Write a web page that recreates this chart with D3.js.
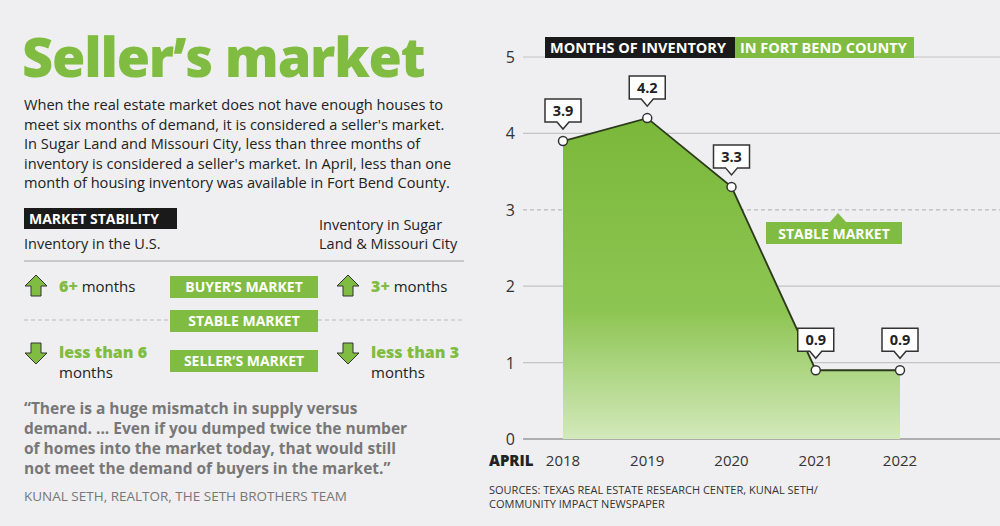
<!DOCTYPE html>
<html><head><meta charset="utf-8">
<script src="https://cdn.jsdelivr.net/npm/d3@7"></script>
<style>body{margin:0;background:#efeff1}svg{font-family:"Open Sans",sans-serif}</style>
</head><body><svg id="c" width="1000" height="526"></svg>
<script>
// chart data
const years = [2018, 2019, 2020, 2021, 2022];
const months = [3.9, 4.2, 3.3, 0.9, 0.9];
const yTicks = [0, 1, 2, 3, 4, 5];
const intro = [
  "When the real estate market does not have enough houses to",
  "meet six months of demand, it is considered a seller's market.",
  "In Sugar Land and Missouri City, less than three months of",
  "inventory is considered a seller's market. In April, less than one",
  "month of housing inventory was available in Fort Bend County."
];
const quote = [
  "\u201cThere is a huge mismatch in supply versus",
  "demand. ... Even if you dumped twice the number",
  "of homes into the market today, that would still",
  "not meet the demand of buyers in the market.\u201d"
];

const GREEN = "#80bc41", DARK = "#222";
const svg = d3.select("#c");
svg.append("rect").attr("width", 1000).attr("height", 526).attr("fill", "#efeff1");

// ----- left panel
svg.append("text").attr("x", 22).attr("y", 77).attr("fill", GREEN)
  .attr("font-size", 54).attr("font-weight", 800).attr("letter-spacing", -1.2).text("Seller\u2019s market");
intro.forEach((t, i) => svg.append("text").attr("x", 24).attr("y", 110 + i * 19.5)
  .attr("font-size", 14.6).attr("fill", DARK).text(t));

svg.append("rect").attr("x", 24).attr("y", 208).attr("width", 153).attr("height", 21).attr("fill", "#1a1a1a");
svg.append("text").attr("x", 29).attr("y", 224).attr("fill", "#fff").attr("font-size", 14)
  .attr("font-weight", 700).text("MARKET STABILITY");
svg.append("text").attr("x", 24).attr("y", 249).attr("font-size", 14.5).attr("fill", DARK).text("Inventory in the U.S.");
svg.append("text").attr("x", 319).attr("y", 230).attr("font-size", 14.5).attr("fill", DARK).text("Inventory in Sugar");
svg.append("text").attr("x", 319).attr("y", 249).attr("font-size", 14.5).attr("fill", DARK).text("Land & Missouri City");
svg.append("line").attr("x1", 24).attr("x2", 464).attr("y1", 261).attr("y2", 261).attr("stroke", "#bbb").attr("stroke-width", 1.5);
svg.append("line").attr("x1", 24).attr("x2", 464).attr("y1", 320).attr("y2", 320).attr("stroke", "#bbb").attr("stroke-dasharray", "4,3");

function arrow(x, y, up) {
  const p = up ? [[0,-11],[11,0],[5,0],[5,10],[-5,10],[-5,0],[-11,0]]
               : [[0,11],[11,0],[5,0],[5,-10],[-5,-10],[-5,0],[-11,0]];
  svg.append("polygon").attr("points", p.map(d => [x + d[0], y + d[1]].join(",")).join(" "))
    .attr("fill", GREEN).attr("stroke", "#333").attr("stroke-width", 1);
}
arrow(36, 286, true); arrow(348, 286, true);
arrow(36, 353, false); arrow(348, 353, false);
function gtext(x, y, big, rest) {
  const t = svg.append("text").attr("x", x).attr("y", y).attr("font-size", 15);
  t.append("tspan").attr("fill", GREEN).attr("font-weight", 800).attr("font-size", 16).text(big);
  if (rest) t.append("tspan").attr("fill", DARK).text(rest);
}
gtext(59, 292, "6+", " months"); gtext(371, 292, "3+", " months");
gtext(59, 358, "less than 6"); gtext(371, 358, "less than 3");
svg.append("text").attr("x", 59).attr("y", 378).attr("font-size", 15).attr("fill", DARK).text("months");
svg.append("text").attr("x", 371).attr("y", 378).attr("font-size", 15).attr("fill", DARK).text("months");
[["BUYER\u2019S MARKET", 276], ["STABLE MARKET", 310], ["SELLER\u2019S MARKET", 350]].forEach(([t, y]) => {
  svg.append("rect").attr("x", 170).attr("y", y).attr("width", 148).attr("height", 22).attr("fill", GREEN);
  svg.append("text").attr("x", 244).attr("y", y + 16).attr("text-anchor", "middle").attr("fill", "#fff")
    .attr("font-size", 14).attr("font-weight", 700).text(t);
});
quote.forEach((t, i) => svg.append("text").attr("x", 24).attr("y", 414 + i * 20)
  .attr("font-size", 15.5).attr("font-weight", 700).attr("fill", "#777").text(t));
svg.append("text").attr("x", 24).attr("y", 501).attr("font-size", 13.5).attr("fill", "#777")
  .text("KUNAL SETH, REALTOR, THE SETH BROTHERS TEAM");

// ----- chart
const x = d3.scaleLinear().domain([2018, 2022]).range([563, 900]);
const y = d3.scaleLinear().domain([0, 5]).range([439, 57]);

yTicks.forEach(v => {
  svg.append("line").attr("x1", 523).attr("x2", 1000).attr("y1", y(v)).attr("y2", y(v))
    .attr("stroke", v === 3 ? "#bbb" : (v === 0 ? "#999" : "#c4c4c4"))
    .attr("stroke-width", v === 0 ? 1.5 : 1.2)
    .attr("stroke-dasharray", v === 3 ? "4,3" : null);
  svg.append("text").attr("x", 515).attr("y", y(v) + 6).attr("text-anchor", "end")
    .attr("font-size", 16).attr("fill", "#333").text(v);
});

const defs = svg.append("defs");
const g = defs.append("linearGradient").attr("id", "fill").attr("x1", 0).attr("x2", 0).attr("y1", 0).attr("y2", 1);
g.append("stop").attr("offset", "0%").attr("stop-color", "#7ab83a");
g.append("stop").attr("offset", "60%").attr("stop-color", "#8dc552");
g.append("stop").attr("offset", "100%").attr("stop-color", "#d3e9bb");

const pts = years.map((yr, i) => [yr, months[i]]);
svg.append("path").datum(pts)
  .attr("d", d3.area().x(d => x(d[0])).y0(y(0)).y1(d => y(d[1])))
  .attr("fill", "url(#fill)");
svg.append("path").datum(pts)
  .attr("d", d3.line().x(d => x(d[0])).y(d => y(d[1])))
  .attr("fill", "none").attr("stroke", "#2c3a1c").attr("stroke-width", 1.8);

// stable market tag
svg.append("path").attr("d", "M766,222 H830 L838,213 L846,222 H902 V244 H766 Z").attr("fill", GREEN);
svg.append("text").attr("x", 834).attr("y", 239).attr("text-anchor", "middle").attr("fill", "#fff")
  .attr("font-size", 14).attr("font-weight", 700).text("STABLE MARKET");

pts.forEach(d => {
  const cx = x(d[0]), cy = y(d[1]);
  const by = cy - 42;
  svg.append("path").attr("d", `M${cx - 18},${by} H${cx + 18} V${by + 23} H${cx + 6} L${cx},${by + 30} L${cx - 6},${by + 23} H${cx - 18} Z`)
    .attr("fill", "#fff").attr("stroke", "#333").attr("stroke-width", 1.5);
  svg.append("text").attr("x", cx).attr("y", by + 17).attr("text-anchor", "middle")
    .attr("font-size", 14.5).attr("font-weight", 700).attr("fill", DARK).text(d[1].toFixed(1));
  svg.append("circle").attr("cx", cx).attr("cy", cy).attr("r", 4.5)
    .attr("fill", "#fff").attr("stroke", "#333").attr("stroke-width", 1.5);
});

years.forEach(yr => svg.append("text").attr("x", x(yr)).attr("y", 466).attr("text-anchor", "middle")
  .attr("font-size", 15).attr("fill", "#333").text(yr));
svg.append("text").attr("x", 489).attr("y", 466).attr("font-size", 15).attr("font-weight", 800).attr("fill", DARK).text("APRIL");

// title band
svg.append("rect").attr("x", 545).attr("y", 37).attr("width", 190).attr("height", 21).attr("fill", "#1a1a1a");
svg.append("rect").attr("x", 735).attr("y", 37).attr("width", 179).attr("height", 21).attr("fill", GREEN);
svg.append("text").attr("x", 550).attr("y", 53).attr("fill", "#fff").attr("font-size", 14.5).attr("font-weight", 700).text("MONTHS OF INVENTORY");
svg.append("text").attr("x", 740).attr("y", 53).attr("fill", "#fff").attr("font-size", 14.5).attr("font-weight", 700).text("IN FORT BEND COUNTY");

svg.append("text").attr("x", 489).attr("y", 494).attr("font-size", 11).attr("fill", "#333")
  .text("SOURCES: TEXAS REAL ESTATE RESEARCH CENTER, KUNAL SETH/");
svg.append("text").attr("x", 489).attr("y", 508).attr("font-size", 11).attr("fill", "#333")
  .text("COMMUNITY IMPACT NEWSPAPER");
</script></body></html>
